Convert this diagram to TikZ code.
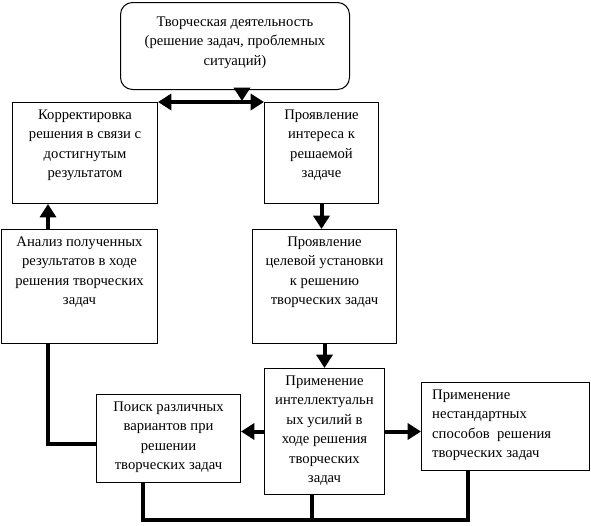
\documentclass[tikz,border=0pt]{standalone}
\usepackage{fontspec}
\setmainfont{Liberation Serif}
\usetikzlibrary{arrows.meta,positioning}
\newcommand{\boxtext}[4][2.5pt]{\parbox[c][#3][t]{#2}{\vspace*{#1}\centering\strut #4}}

\begin{document}
\begin{tikzpicture}[
  x=0.75pt, y=-0.75pt,
  block/.style={draw, line width=0.75pt, inner sep=0pt, anchor=north west, font=\fontsize{11}{14.6}\selectfont},
  roundblock/.style={block, rounded corners=9pt},
  flow/.style={-{Triangle[length=10pt,width=12pt]}, line width=3pt},
  twoway/.style={{Triangle[length=10pt,width=12pt]}-{Triangle[length=10pt,width=12pt]}, line width=3pt},
  link/.style={line width=3pt},
]
\useasboundingbox (0,0) rectangle (591,525);

% Top: the source of the whole chain
\node[roundblock] (top) at (120,2) {\boxtext[7.5pt]{171.75pt}{65.25pt}{Творческая деятельность\\(решение задач, проблемных\\ситуаций)}};

% Second row
\node[block] (corr) at (12,102) {\boxtext{108.75pt}{75.75pt}{Корректировка\\решения в связи с\\достигнутым\\результатом}};
\node[block] (interest) at (264,102) {\boxtext{85.5pt}{75.75pt}{Проявление\\интереса к\\решаемой\\задаче}};

% Third row
\node[block] (analysis) at (1,229) {\boxtext{117pt}{85.5pt}{Анализ полученных\\результатов в ходе\\решения творческих\\задач}};
\node[block] (goal) at (252,229) {\boxtext{108pt}{85.5pt}{Проявление\\целевой установки\\к решению\\творческих задач}};

% Bottom row
\node[block] (intel) at (264,368) {\boxtext{90pt}{94.5pt}{Применение\\интеллектуальн\\ых усилий в\\ходе решения\\творческих\\задач}};
\node[block] (search) at (96,394) {\boxtext{108pt}{66pt}{Поиск различных\\вариантов при\\решении\\творческих задач}};
\node[block] (nonstd) at (421,382) {\boxtext{126pt}{66pt}{\raggedright\leftskip=8pt Применение\\нестандартных\\способов\ \ решения\\творческих задач}};

% Junction points
\coordinate (mid) at (242,101);
\coordinate (fb) at (48,444);
\coordinate (b1) at (143,520);
\coordinate (b2) at (312,520);
\coordinate (b3) at (468,520);

% Main chain
\draw[flow] (top.south -| mid) -- (mid);
\draw[twoway] (corr.north east) -- (interest.north west);
\draw[flow] (interest.south) -- (interest.south |- goal.north);
\draw[flow] (goal.south) -- (goal.south |- intel.north);
\draw[flow] (intel.west) -- (intel.west -| search.east);
\draw[flow] (intel.east) -- (intel.east -| nonstd.west);

% Feedback
\draw[link] (search.west |- fb) -- (fb) -- (analysis.south -| fb);
\draw[flow] (analysis.north -| fb) -- (corr.south -| fb);
\draw[link] (search.south -| b1) -- (b1) -- (b3) -- (nonstd.south -| b3);
\draw[link] (intel.south -| b2) -- (b2);

\end{tikzpicture}
\end{document}
